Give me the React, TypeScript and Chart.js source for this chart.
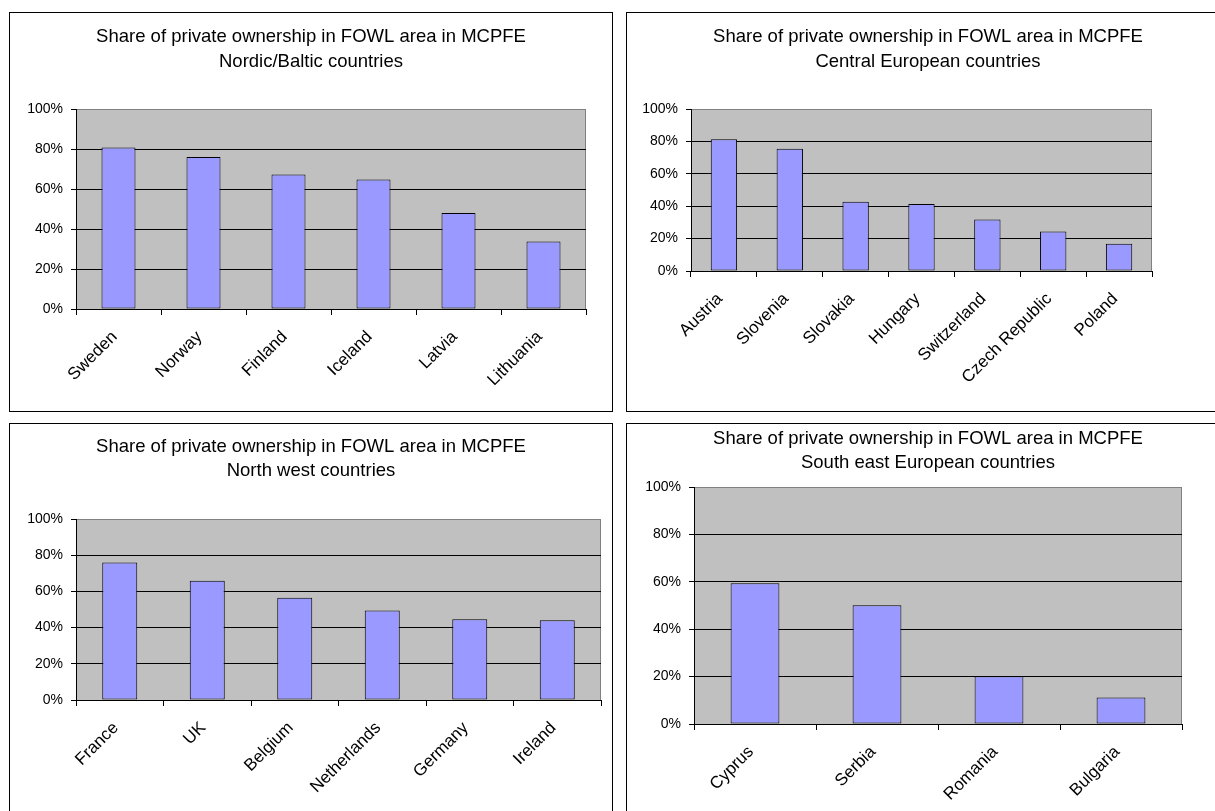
import React, { useEffect, useRef } from "react";
import { Chart, registerables } from "chart.js";

Chart.register(...registerables);

// ---- data -------------------------------------------------------------
const chartTitle = "Share of private ownership in FOWL area in MCPFE";

const nordicRegion = "Nordic/Baltic countries";
const nordicCountries = ["Sweden", "Norway", "Finland", "Iceland", "Latvia", "Lithuania"];
const nordicShare = [80.8, 76.0, 67.3, 64.8, 48.0, 33.7];

const centralRegion = "Central European countries";
const centralCountries = ["Austria", "Slovenia", "Slovakia", "Hungary", "Switzerland", "Czech Republic", "Poland"];
const centralShare = [81.4, 75.4, 42.8, 41.4, 31.8, 24.4, 16.8];

const northWestRegion = "North west countries";
const northWestCountries = ["France", "UK", "Belgium", "Netherlands", "Germany", "Ireland"];
const northWestShare = [75.9, 65.9, 56.5, 49.4, 44.6, 44.0];

const southEastRegion = "South east European countries";
const southEastCountries = ["Cyprus", "Serbia", "Romania", "Bulgaria"];
const southEastShare = [59.4, 50.1, 20.2, 11.2];

const shareTicks = [0, 20, 40, 60, 80, 100];

// ---- look -------------------------------------------------------------
const FONT = "Arial, 'Liberation Sans', Helvetica, sans-serif";
const PANEL_W = 604;
const PANEL_H = 400;
const CANVAS_W = PANEL_W - 2;
const CANVAS_H = PANEL_H - 2;

// grey plot area with a grey frame on the right
const plotBackdrop = {
  id: "plotBackdrop",
  beforeDraw(chart: any) {
    const { ctx, chartArea: a } = chart;
    ctx.save();
    ctx.fillStyle = "#C0C0C0";
    ctx.fillRect(a.left, a.top, a.right - a.left, a.bottom - a.top);
    ctx.strokeStyle = "#808080";
    ctx.lineWidth = 1;
    const rx = Math.round(a.right) - 0.5;
    ctx.beginPath();
    ctx.moveTo(rx, a.top);
    ctx.lineTo(rx, a.bottom);
    ctx.stroke();
    ctx.restore();
  },
};

// centred two-line heading
const twoLineTitle = {
  id: "twoLineTitle",
  afterDraw(chart: any, _args: any, opts: any) {
    const { ctx, width } = chart;
    ctx.save();
    ctx.fillStyle = "#000";
    ctx.font = `18.5px ${FONT}`;
    ctx.textAlign = "center";
    ctx.textBaseline = "middle";
    (opts.lines as string[]).forEach((t, i) => ctx.fillText(t, width / 2, opts.y[i]));
    ctx.restore();
  },
};

type PanelProps = {
  x: number;
  y: number;
  region: string;
  labels: string[];
  values: number[];
  plotLeft: number;
  plotRight: number;
  plotTop: number;
  plotBottom: number;
  titleY: number[];
};

function SharePanel(p: PanelProps) {
  const ref = useRef<HTMLCanvasElement | null>(null);

  useEffect(() => {
    if (!ref.current) return;
    const chart = new Chart(ref.current, {
      type: "bar",
      data: {
        labels: p.labels,
        datasets: [
          {
            data: p.values,
            backgroundColor: "#9999FF",
            borderColor: "#000000",
            borderWidth: 1,
            borderSkipped: false,
            barPercentage: 0.4,
            categoryPercentage: 1,
          },
        ],
      },
      options: {
        animation: false,
        responsive: false,
        devicePixelRatio: 1,
        events: [],
        layout: {
          padding: { left: 0, top: p.plotTop, right: CANVAS_W - p.plotRight, bottom: 0 },
        },
        plugins: {
          legend: { display: false },
          tooltip: { enabled: false },
          title: { display: false },
          twoLineTitle: { lines: [chartTitle, p.region], y: p.titleY },
        } as any,
        scales: {
          x: {
            grid: {
              offset: true,
              drawOnChartArea: false,
              drawTicks: true,
              tickLength: 6,
              color: "#000",
              tickColor: "#000",
            },
            border: { display: true, color: "#000", width: 1 },
            ticks: {
              autoSkip: false,
              maxRotation: 45,
              minRotation: 45,
              color: "#000",
              font: { family: FONT, size: 17 },
              padding: 12,
              labelOffset: -4,
            },
            afterFit: (s: any) => {
              s.height = CANVAS_H - p.plotBottom;
            },
          },
          y: {
            min: 0,
            max: 100,
            afterBuildTicks: (s: any) => {
              s.ticks = shareTicks.map((v) => ({ value: v }));
            },
            grid: {
              color: (c: any) => (c.tick && c.tick.value === 100 ? "#808080" : "#000"),
              tickColor: "#000",
              tickLength: 5,
              drawTicks: true,
            },
            border: { display: true, color: "#000", width: 1 },
            ticks: {
              color: "#000",
              font: { family: FONT, size: 14 },
              padding: 8,
              callback: (v: any) => `${v}%`,
            },
            afterFit: (s: any) => {
              s.width = p.plotLeft;
            },
          },
        },
      } as any,
      plugins: [plotBackdrop, twoLineTitle],
    });
    return () => chart.destroy();
  }, []);

  return (
    <div
      style={{
        position: "absolute",
        left: p.x,
        top: p.y,
        width: PANEL_W,
        height: PANEL_H,
        boxSizing: "border-box",
        border: "1px solid #000",
        background: "#fff",
      }}
    >
      <canvas ref={ref} width={CANVAS_W} height={CANVAS_H} style={{ display: "block" }} />
    </div>
  );
}

export default function App() {
  return (
    <div
      style={{
        position: "fixed",
        left: 0,
        top: 0,
        width: 1215,
        height: 811,
        overflow: "hidden",
        background: "#fff",
      }}
    >
      <SharePanel
        x={9}
        y={12}
        region={nordicRegion}
        labels={nordicCountries}
        values={nordicShare}
        plotLeft={66}
        plotRight={576}
        plotTop={96}
        plotBottom={296}
        titleY={[24, 49]}
      />
      <SharePanel
        x={626}
        y={12}
        region={centralRegion}
        labels={centralCountries}
        values={centralShare}
        plotLeft={64}
        plotRight={525}
        plotTop={96}
        plotBottom={258}
        titleY={[24, 49]}
      />
      <SharePanel
        x={9}
        y={423}
        region={northWestRegion}
        labels={northWestCountries}
        values={northWestShare}
        plotLeft={66}
        plotRight={591}
        plotTop={95}
        plotBottom={276}
        titleY={[23, 47]}
      />
      <SharePanel
        x={626}
        y={423}
        region={southEastRegion}
        labels={southEastCountries}
        values={southEastShare}
        plotLeft={67}
        plotRight={555}
        plotTop={63}
        plotBottom={300}
        titleY={[15, 39]}
      />
    </div>
  );
}
